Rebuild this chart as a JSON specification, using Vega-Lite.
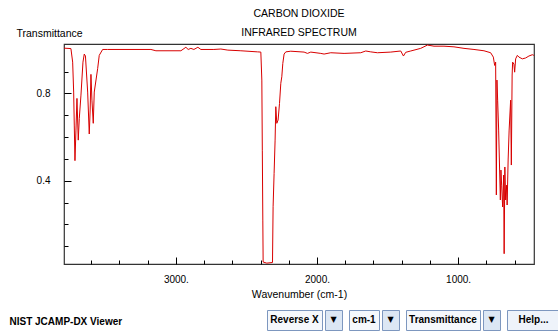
{
  "$schema": "https://vega.github.io/schema/vega-lite/v6.json",
  "background": "white",
  "padding": {"left": 8, "top": 8, "right": 0, "bottom": 0},
  "config": {"font": "Liberation Sans", "view": {"stroke": null}},
  "columns": 1,
  "bounds": "flush",
  "spacing": 46,
  "concat": [
    {
      "width": 470,
      "height": 220,
      "title": {"text": ["CARBON DIOXIDE", "INFRARED SPECTRUM"], "fontSize": 10.5, "fontWeight": "normal", "color": "#000", "lineHeight": 19, "anchor": "middle", "frame": "group", "offset": -10},
      "view": {"stroke": "#333", "strokeWidth": 1.2},
      "data": {"values": [
        {"wn": 3793, "T": 1.007}, {"wn": 3744, "T": 1.005}, {"wn": 3731.6, "T": 0.943}, {"wn": 3724.5, "T": 0.806},
        {"wn": 3720.2, "T": 0.655}, {"wn": 3715.3, "T": 0.492}, {"wn": 3708.2, "T": 0.632}, {"wn": 3701.1, "T": 0.777},
        {"wn": 3691.9, "T": 0.586}, {"wn": 3684.8, "T": 0.684}, {"wn": 3672.8, "T": 0.792}, {"wn": 3658.6, "T": 0.943},
        {"wn": 3649.4, "T": 0.980}, {"wn": 3641, "T": 0.971}, {"wn": 3625.3, "T": 0.806}, {"wn": 3614, "T": 0.614},
        {"wn": 3607.6, "T": 0.724}, {"wn": 3602, "T": 0.887}, {"wn": 3594.9, "T": 0.769}, {"wn": 3585.7, "T": 0.663},
        {"wn": 3578.6, "T": 0.806}, {"wn": 3554.5, "T": 0.913}, {"wn": 3543.2, "T": 0.974}, {"wn": 3519.1, "T": 1.001},
        {"wn": 3483.7, "T": 1.001}, {"wn": 3177, "T": 1.001}, {"wn": 3141.6, "T": 0.995}, {"wn": 2964.6, "T": 0.995},
        {"wn": 2929.2, "T": 1.011}, {"wn": 2912.9, "T": 1.001}, {"wn": 2893.8, "T": 1.006}, {"wn": 2872.5, "T": 1.001},
        {"wn": 2844.2, "T": 1.011}, {"wn": 2822.9, "T": 1.001}, {"wn": 2730.9, "T": 1.001}, {"wn": 2681.3, "T": 1.003},
        {"wn": 2631.7, "T": 0.998}, {"wn": 2539.6, "T": 0.995}, {"wn": 2421.4, "T": 0.990}, {"wn": 2398, "T": 0.989},
        {"wn": 2390.9, "T": 0.861}, {"wn": 2387.4, "T": 0.540}, {"wn": 2383.9, "T": 0.220}, {"wn": 2381.7, "T": 0.028},
        {"wn": 2355.6, "T": 0.023}, {"wn": 2315.3, "T": 0.026}, {"wn": 2311, "T": 0.281}, {"wn": 2304, "T": 0.434},
        {"wn": 2296.9, "T": 0.586}, {"wn": 2291.9, "T": 0.739}, {"wn": 2284.8, "T": 0.663}, {"wn": 2275.6, "T": 0.678},
        {"wn": 2265.7, "T": 0.754}, {"wn": 2256.4, "T": 0.846}, {"wn": 2249.4, "T": 0.876}, {"wn": 2242.3, "T": 0.937},
        {"wn": 2233.1, "T": 0.980}, {"wn": 2221.1, "T": 0.990}, {"wn": 2185.7, "T": 0.993}, {"wn": 2091.5, "T": 0.989},
        {"wn": 2067.5, "T": 0.983}, {"wn": 2044, "T": 0.989}, {"wn": 1973.1, "T": 0.983}, {"wn": 1949.7, "T": 0.980},
        {"wn": 1902.3, "T": 0.986}, {"wn": 1808.1, "T": 0.983}, {"wn": 1689.9, "T": 0.986}, {"wn": 1654.4, "T": 0.994},
        {"wn": 1619, "T": 0.990}, {"wn": 1571.6, "T": 0.986}, {"wn": 1477.2, "T": 0.989}, {"wn": 1406.4, "T": 0.994},
        {"wn": 1387.3, "T": 0.971}, {"wn": 1371.1, "T": 0.988}, {"wn": 1335.7, "T": 0.994}, {"wn": 1265, "T": 1.006},
        {"wn": 1217.4, "T": 1.021}, {"wn": 1170.7, "T": 1.016}, {"wn": 1099.9, "T": 1.016}, {"wn": 1029.1, "T": 1.013},
        {"wn": 958.2, "T": 1.006}, {"wn": 887.4, "T": 1.001}, {"wn": 816.6, "T": 0.995}, {"wn": 769.2, "T": 0.986},
        {"wn": 750.1, "T": 0.966}, {"wn": 740.9, "T": 0.928}, {"wn": 733.8, "T": 0.943}, {"wn": 728.8, "T": 0.335},
        {"wn": 724.6, "T": 0.861}, {"wn": 719.6, "T": 0.769}, {"wn": 712.5, "T": 0.632}, {"wn": 700.5, "T": 0.312},
        {"wn": 696.3, "T": 0.449}, {"wn": 691.3, "T": 0.380}, {"wn": 684.2, "T": 0.280}, {"wn": 677.1, "T": 0.426},
        {"wn": 673.6, "T": 0.066}, {"wn": 668.6, "T": 0.463}, {"wn": 663, "T": 0.312}, {"wn": 655.9, "T": 0.380},
        {"wn": 652.4, "T": 0.289}, {"wn": 645.3, "T": 0.495}, {"wn": 638.2, "T": 0.632}, {"wn": 627.6, "T": 0.769},
        {"wn": 622.6, "T": 0.472}, {"wn": 617, "T": 0.884}, {"wn": 613.4, "T": 0.943}, {"wn": 604.2, "T": 0.934},
        {"wn": 599.2, "T": 0.897}, {"wn": 592.1, "T": 0.958}, {"wn": 580.1, "T": 0.974}, {"wn": 568.8, "T": 0.966},
        {"wn": 544.7, "T": 0.958}, {"wn": 521.3, "T": 0.962}, {"wn": 497.9, "T": 0.971}, {"wn": 473.9, "T": 0.977},
        {"wn": 462.6, "T": 0.974}
      ]},
      "resolve": {"axis": {"x": "independent", "y": "independent"}},
      "layer": [
        {
          "mark": {"type": "line", "strokeOpacity": 0},
          "encoding": {
            "x": {"field": "wn", "type": "quantitative", "scale": {"domain": [462, 3793], "reverse": true, "nice": false, "zero": false},
              "axis": {"orient": "bottom", "values": [3600, 3400, 3200, 2800, 2600, 2400, 2200, 1800, 1600, 1400, 1200, 800, 600], "labels": false, "tickSize": -4, "tickColor": "#000", "domain": false, "grid": false,
                "title": "NIST JCAMP-DX Viewer", "titleX": -55, "titleY": 60, "titleAlign": "left", "titleBaseline": "alphabetic",
                "titleFontSize": 10, "titleFontWeight": "bold", "titleColor": "#000"}},
            "y": {"field": "T", "type": "quantitative", "scale": {"domain": [0.019, 1.026], "nice": false, "zero": false},
              "axis": {"orient": "left", "values": [0.1, 0.2, 0.3, 0.5, 0.6, 0.7, 0.9], "labels": false, "tickSize": -4, "tickColor": "#000", "domain": false, "grid": false, "title": null}}
          }
        },
        {
          "mark": {"type": "line", "color": "#d80000", "strokeWidth": 1, "clip": true},
          "encoding": {
            "x": {"field": "wn", "type": "quantitative",
              "axis": {"orient": "bottom", "values": [3000, 2000, 1000], "labelExpr": "datum.value + '.'", "tickSize": -7, "tickColor": "#000", "domain": false, "grid": false,
                "labelFontSize": 10, "labelColor": "#000", "labelPadding": 17,
                "title": "Wavenumber (cm-1)", "titleFontSize": 10.5, "titleFontWeight": "normal", "titleColor": "#000", "titlePadding": 5}},
            "y": {"field": "T", "type": "quantitative",
              "axis": {"orient": "left", "values": [0.4, 0.8], "format": ".1f", "tickSize": -7, "tickColor": "#000", "domain": false, "grid": false,
                "labelFontSize": 10, "labelColor": "#000", "labelPadding": 21,
                "title": "Transmittance", "titleAngle": 0, "titleAlign": "left", "titleBaseline": "alphabetic", "titleX": -48, "titleY": -7.5,
                "titleFontSize": 10.5, "titleFontWeight": "normal", "titleColor": "#000"}}
          }
        }
      ]
    },
    {
      "spacing": 5,
      "hconcat": [
        {"width": 197, "height": 20, "data": {"values": []}, "mark": "rect"},
        {"spacing": 1, "hconcat": [
          {"width": 55, "height": 20, "view": {"fill": "#f5f8fc", "stroke": "#7d97bf"},
           "data": {"values": [{"label": "Reverse X"}]},
           "mark": {"type": "text", "fontWeight": "bold", "fontSize": 10, "color": "#000"},
           "encoding": {"text": {"field": "label"}}},
          {"width": 17, "height": 20, "view": {"fill": "#dce7f4", "stroke": "#7d97bf"},
           "data": {"values": [{"label": "▼"}]},
           "mark": {"type": "text", "fontSize": 8, "font": "DejaVu Sans", "color": "#000"},
           "encoding": {"text": {"field": "label"}}}
        ]},
        {"spacing": 1, "hconcat": [
          {"width": 30, "height": 20, "view": {"fill": "#f5f8fc", "stroke": "#7d97bf"},
           "data": {"values": [{"label": "cm-1"}]},
           "mark": {"type": "text", "fontWeight": "bold", "fontSize": 10, "color": "#000"},
           "encoding": {"text": {"field": "label"}}},
          {"width": 17, "height": 20, "view": {"fill": "#dce7f4", "stroke": "#7d97bf"},
           "data": {"values": [{"label": "▼"}]},
           "mark": {"type": "text", "fontSize": 8, "font": "DejaVu Sans", "color": "#000"},
           "encoding": {"text": {"field": "label"}}}
        ]},
        {"spacing": 1, "hconcat": [
          {"width": 74, "height": 20, "view": {"fill": "#f5f8fc", "stroke": "#7d97bf"},
           "data": {"values": [{"label": "Transmittance"}]},
           "mark": {"type": "text", "fontWeight": "bold", "fontSize": 10, "color": "#000"},
           "encoding": {"text": {"field": "label"}}},
          {"width": 17, "height": 20, "view": {"fill": "#dce7f4", "stroke": "#7d97bf"},
           "data": {"values": [{"label": "▼"}]},
           "mark": {"type": "text", "fontSize": 8, "font": "DejaVu Sans", "color": "#000"},
           "encoding": {"text": {"field": "label"}}}
        ]},
        {"width": 53, "height": 20, "view": {"fill": "#eef3fa", "stroke": "#7d97bf"},
         "data": {"values": [{"label": "Help..."}]},
         "mark": {"type": "text", "fontWeight": "bold", "fontSize": 10, "color": "#000"},
         "encoding": {"text": {"field": "label"}}}
      ]
    }
  ]
}
